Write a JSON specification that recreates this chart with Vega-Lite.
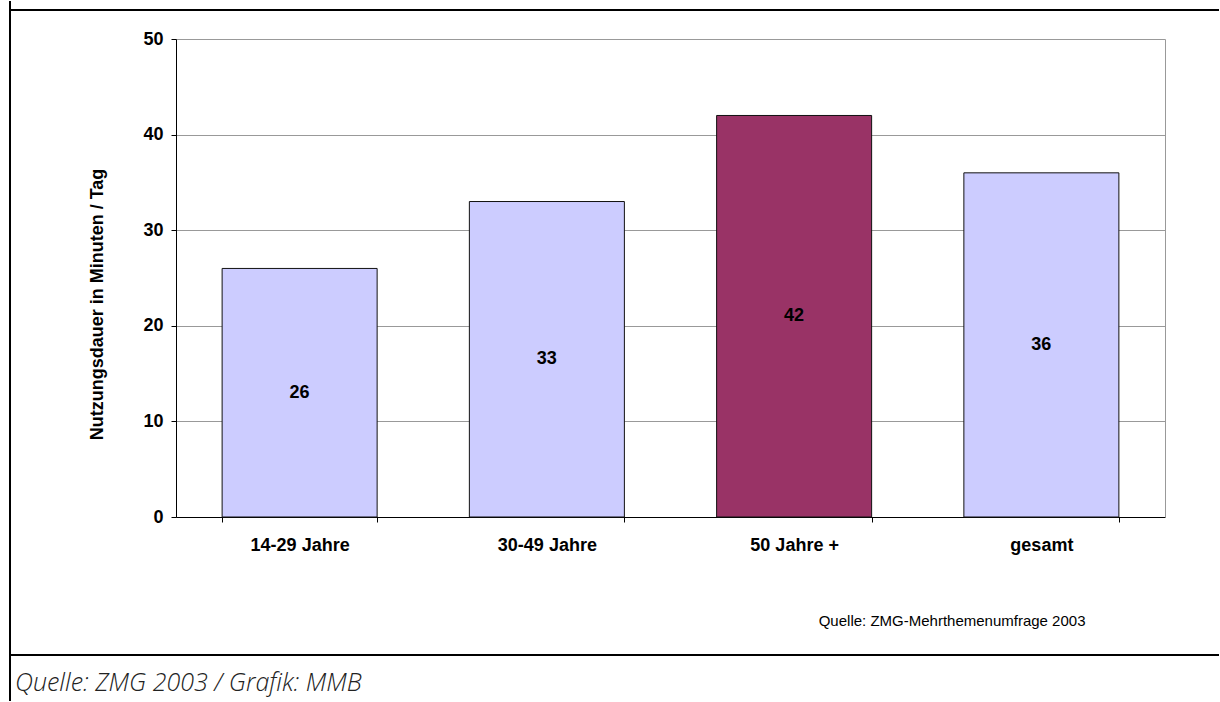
{
  "$schema": "https://vega.github.io/schema/vega-lite/v6.json",
  "usermeta": {"embedOptions": {"actions": false}},
  "padding": {"left": 9, "top": 0, "right": 0, "bottom": 0},
  "background": "white",
  "spacing": 0,
  "bounds": "flush",
  "config": {"font": "Liberation Sans", "view": {"stroke": null}},
  "vconcat": [
    {
      "width": 1209,
      "height": 9,
      "view": {"stroke": "black", "strokeWidth": 2, "strokeDash": [9, 2427], "strokeDashOffset": 9},
      "data": {"values": []},
      "mark": {"type": "text"},
      "encoding": {}
    },
    {
      "width": 1209,
      "height": 645,
      "view": {"stroke": "black", "strokeWidth": 2, "strokeDash": [1209, 1854, 700]},
      "data": {
        "values": [
          {"gruppe": "14-29 Jahre", "minuten": 26},
          {"gruppe": "30-49 Jahre", "minuten": 33},
          {"gruppe": "50 Jahre +", "minuten": 42},
          {"gruppe": "gesamt", "minuten": 36}
        ]
      },
      "transform": [{"calculate": "datum.minuten / 2", "as": "mitte"}],
      "encoding": {
        "x": {
          "field": "gruppe",
          "type": "nominal",
          "sort": null,
          "scale": {"range": [166, 1155], "paddingInner": 0.373, "paddingOuter": 0.1865},
          "axis": {
            "orient": "bottom",
            "offset": -138,
            "tickBand": "extent",
            "domainColor": "black",
            "domainWidth": 1,
            "tickColor": "black",
            "tickSize": 5,
            "labelAngle": 0,
            "labelFontSize": 18,
            "labelFontWeight": "bold",
            "labelColor": "black",
            "labelPadding": 14,
            "grid": false,
            "title": "Quelle: ZMG-Mehrthemenumfrage 2003",
            "titleFontSize": 15,
            "titleFontWeight": "normal",
            "titleColor": "black",
            "titleX": 1075,
            "titleY": 103,
            "titleAlign": "right",
            "titleBaseline": "middle"
          }
        }
      },
      "layer": [
        {
          "mark": {"type": "bar", "stroke": "#111111", "strokeWidth": 1},
          "encoding": {
            "y": {
              "field": "minuten",
              "type": "quantitative",
              "scale": {"domain": [0, 50], "range": [507, 29], "nice": false},
              "axis": {
                "orient": "left",
                "offset": -166,
                "values": [0, 10, 20, 30, 40, 50],
                "domainColor": "black",
                "domainWidth": 1,
                "tickColor": "black",
                "tickSize": 5,
                "labelFontSize": 18,
                "labelFontWeight": "bold",
                "labelColor": "black",
                "labelPadding": 8,
                "grid": true,
                "gridColor": "#999999",
                "gridWidth": 1,
                "title": "Nutzungsdauer in Minuten / Tag",
                "titleFontSize": 18,
                "titleFontWeight": "bold",
                "titleColor": "black",
                "titleAngle": -90,
                "titleX": -79,
                "titleY": 294,
                "titleAlign": "center",
                "titleBaseline": "middle"
              }
            },
            "color": {
              "field": "gruppe",
              "type": "nominal",
              "scale": {
                "domain": ["14-29 Jahre", "30-49 Jahre", "50 Jahre +", "gesamt"],
                "range": ["#CCCCFF", "#CCCCFF", "#993366", "#CCCCFF"]
              },
              "legend": null
            }
          }
        },
        {
          "mark": {"type": "text", "fontWeight": "bold", "fontSize": 18, "color": "black", "baseline": "middle"},
          "encoding": {
            "y": {
              "field": "mitte",
              "type": "quantitative",
              "axis": {
                "orient": "right",
                "offset": -54,
                "values": [0, 50],
                "labels": false,
                "ticks": false,
                "grid": false,
                "domainColor": "#999999",
                "title": null
              }
            },
            "text": {"field": "minuten", "type": "quantitative"}
          }
        }
      ],
      "resolve": {"axis": {"y": "independent"}}
    },
    {
      "width": 1209,
      "height": 46,
      "view": {"stroke": "black", "strokeWidth": 2, "strokeDash": [1209, 1255, 60]},
      "title": {
        "text": "Quelle: ZMG 2003 / Grafik: MMB",
        "orient": "top",
        "anchor": "start",
        "offset": -53,
        "dx": 5,
        "baseline": "middle",
        "font": "Open Sans",
        "fontStyle": "italic",
        "fontWeight": 300,
        "fontSize": 25,
        "color": "#222222"
      },
      "data": {"values": []},
      "mark": {"type": "text"},
      "encoding": {}
    }
  ]
}
